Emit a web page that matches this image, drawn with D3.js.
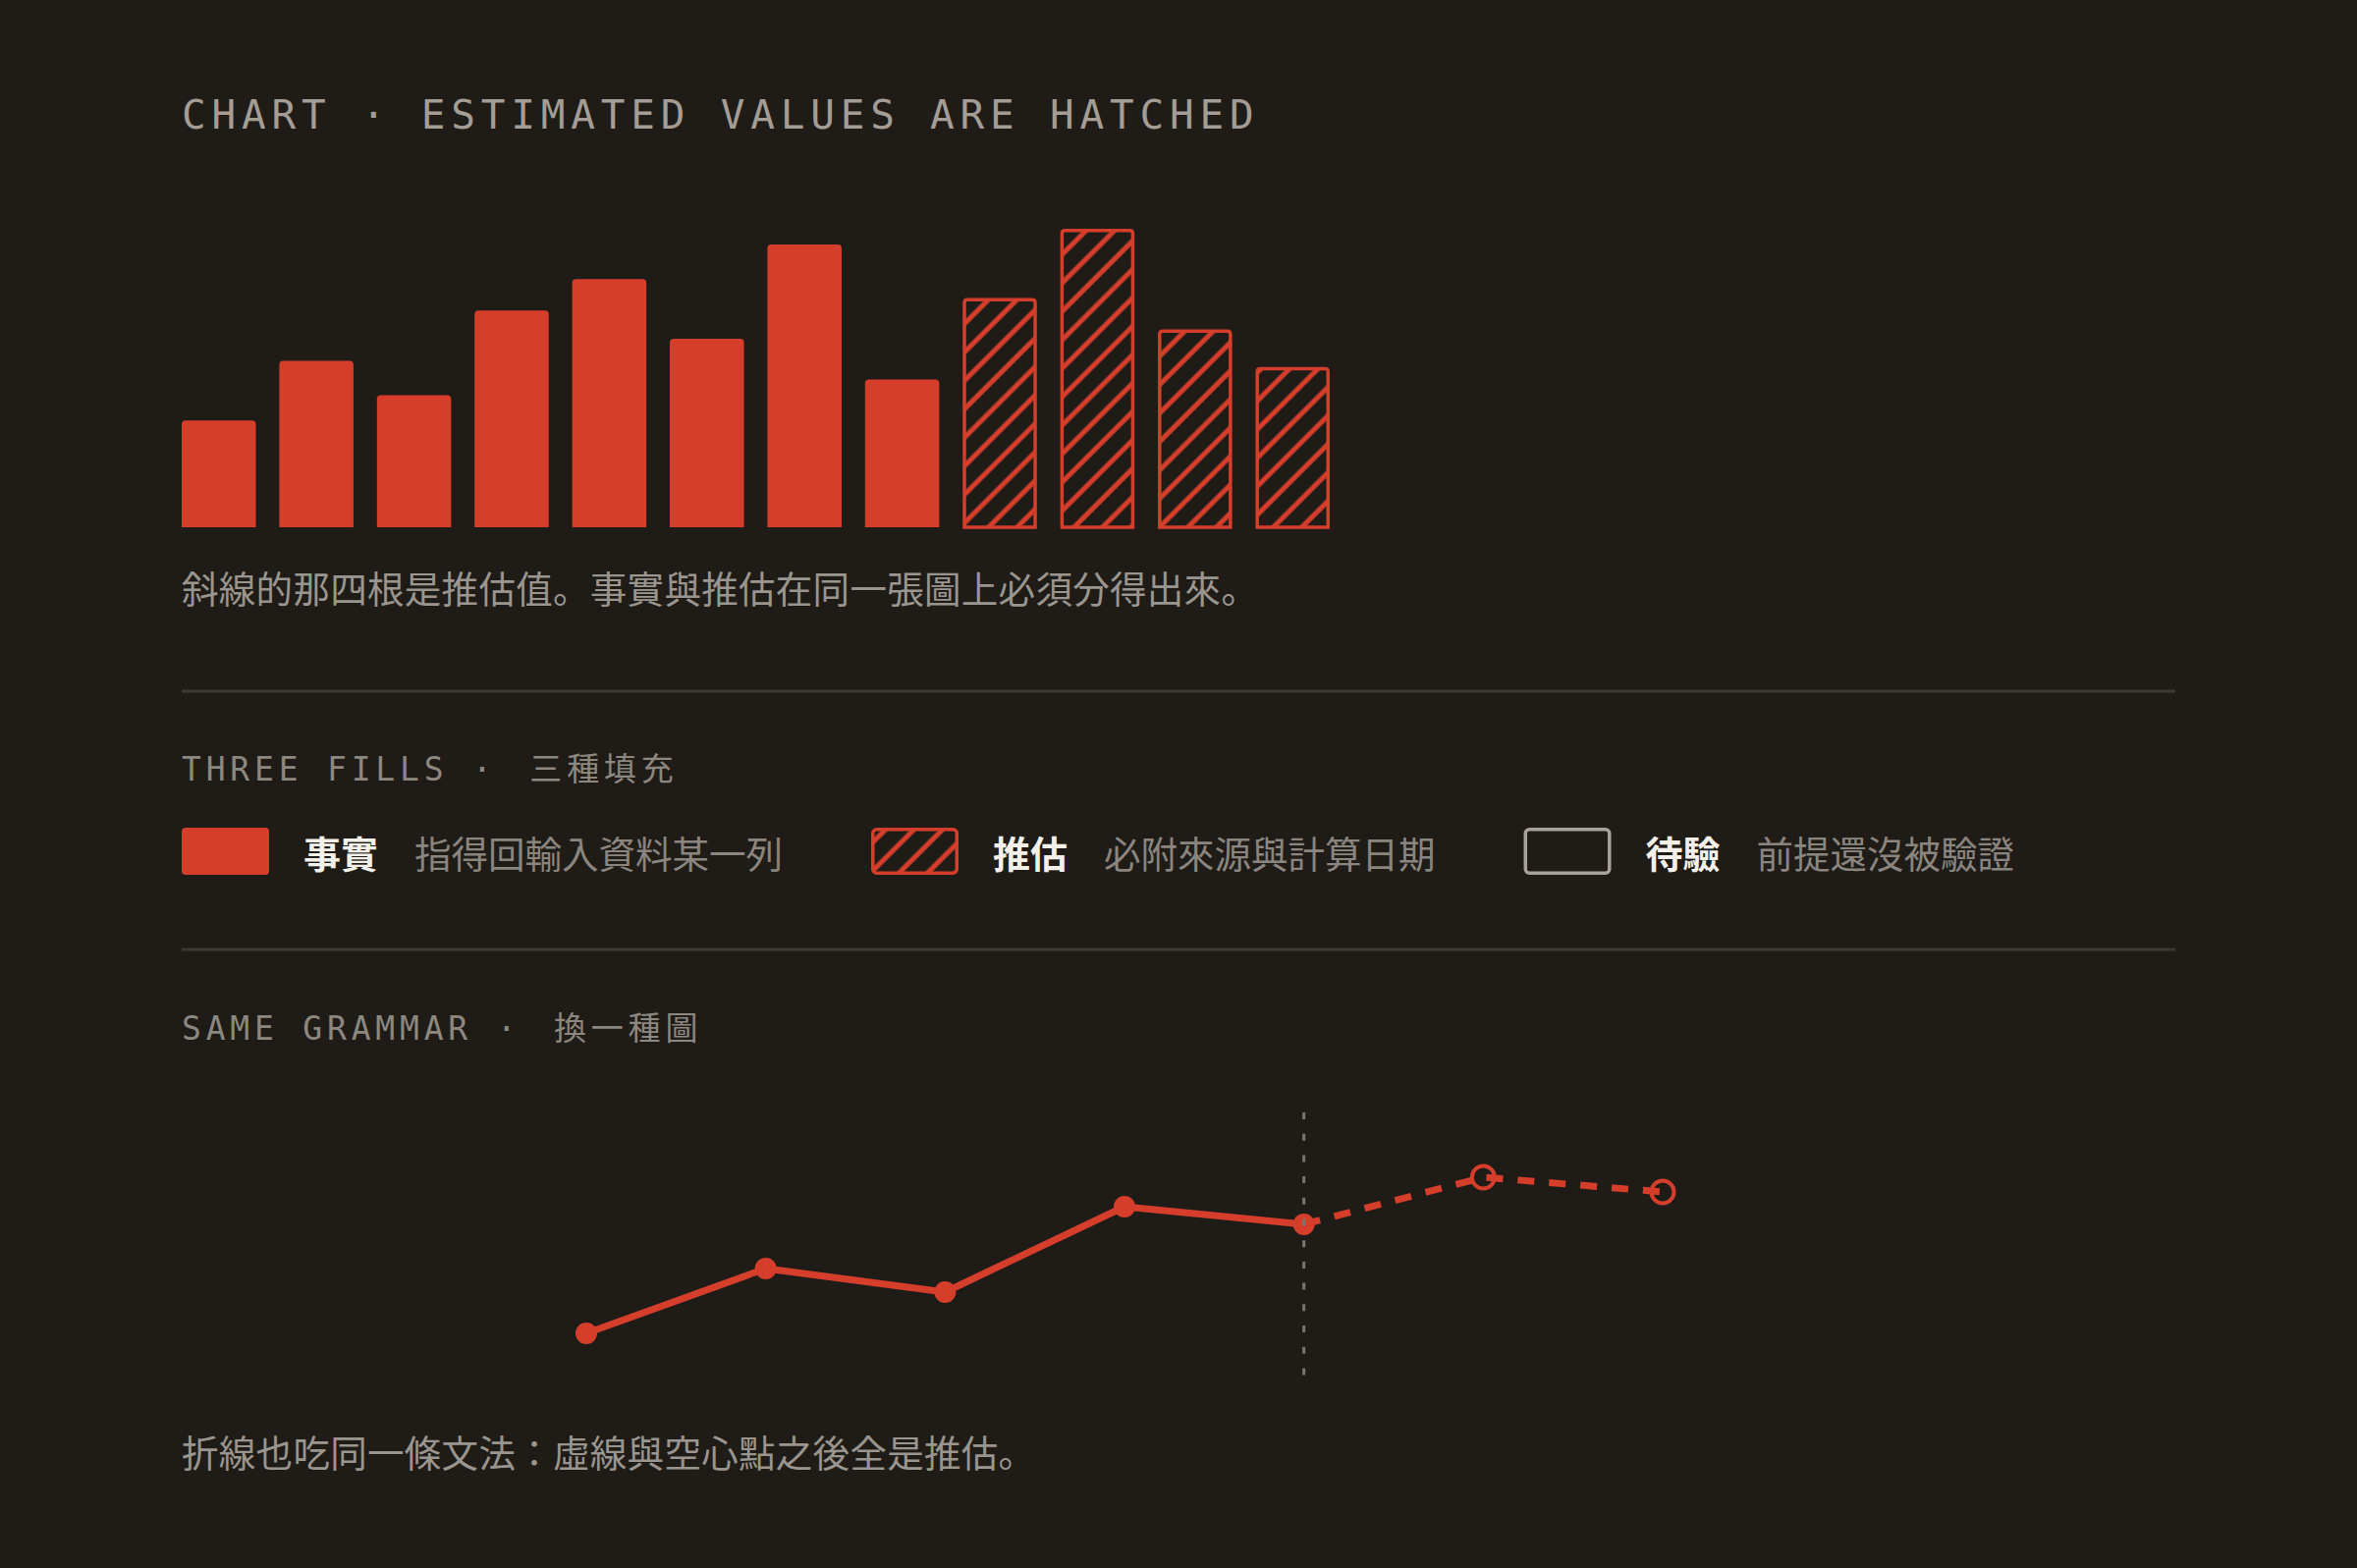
<!DOCTYPE html>
<html>
<head>
<meta charset="utf-8">
<script src="https://cdn.jsdelivr.net/npm/d3@7"></script>
<style>
  html, body { margin: 0; padding: 0; background: #1f1c18; }
  svg { display: block; }
  .mono { font-family: "DejaVu Sans Mono", "Noto Sans CJK TC", monospace; }
  .cjk { font-family: "Noto Sans CJK JP", "Noto Sans CJK TC", sans-serif; }
</style>
</head>
<body>
<div id="chart"></div>
<script>
// bar chart data (the last four are estimates)
var barCategories = ['01', '02', '03', '04', '05', '06', '07', '08', '09', '10', '11', '12'];
var barValues = [34, 53, 42, 69, 79, 60, 90, 47, 73, 95, 63, 51];
var barEstimated = [false, false, false, false, false, false, false, false, true, true, true, true];

// line chart data, dashed from index 4 on
var linePeriods = ['P1', 'P2', 'P3', 'P4', 'P5', 'P6', 'P7'];
var lineValues = [24, 46, 38, 67, 61, 77, 72];
var lineEstimatedFrom = 4;

// legend
var legendKinds = ['fact', 'estimate', 'pending'];
var legendLabels = ['事實', '推估', '待驗'];
var legendNotes = ['指得回輸入資料某一列', '必附來源與計算日期', '前提還沒被驗證'];

var texts = {
  title: 'CHART · ESTIMATED VALUES ARE HATCHED',
  barNote: '斜線的那四根是推估值。事實與推估在同一張圖上必須分得出來。',
  fillsHead: 'THREE FILLS · ',
  fillsHeadZh: '三種填充',
  grammarHead: 'SAME GRAMMAR · ',
  grammarHeadZh: '換一種圖',
  lineNote: '折線也吃同一條文法：虛線與空心點之後全是推估。'
};

var W = 2400, H = 1597;
var bg = '#1f1c18', red = '#d63e2c';

var svg = d3.select('#chart').append('svg')
  .attr('width', W)
  .attr('height', H);

svg.append('rect').attr('width', W).attr('height', H).attr('fill', bg);

// hatch pattern
var defs = svg.append('defs');
var pat = defs.append('pattern')
  .attr('id', 'hatch')
  .attr('patternUnits', 'userSpaceOnUse')
  .attr('width', 20.5)
  .attr('height', 20.5)
  .attr('patternTransform', 'rotate(45)');
pat.append('rect').attr('width', 20.5).attr('height', 20.5).attr('fill', bg);
pat.append('line')
  .attr('x1', 5).attr('y1', 0).attr('x2', 5).attr('y2', 20.5)
  .attr('stroke', red).attr('stroke-width', 5);

function topRounded(x, y, w, h, r) {
  return 'M' + x + ',' + (y + h) +
    'V' + (y + r) +
    'Q' + x + ',' + y + ' ' + (x + r) + ',' + y +
    'H' + (x + w - r) +
    'Q' + (x + w) + ',' + y + ' ' + (x + w) + ',' + (y + r) +
    'V' + (y + h) + 'Z';
}

function sectionHead(y, en, zh) {
  var t = svg.append('text')
    .attr('class', 'mono')
    .attr('x', 185).attr('y', y)
    .attr('font-size', 33)
    .attr('fill', '#8c877f')
    .style('letter-spacing', '4.8px');
  t.append('tspan').text(en);
  t.append('tspan').attr('dx', 9).text(zh);
}

// title
svg.append('text')
  .attr('class', 'mono')
  .attr('x', 185).attr('y', 131)
  .attr('font-size', 41)
  .attr('fill', '#a39d95')
  .style('letter-spacing', '5.8px')
  .text(texts.title);

// bars
var x = d3.scaleBand()
  .domain(barCategories)
  .range([185, 1354])
  .paddingInner(0.24)
  .paddingOuter(0);

var y = d3.scaleLinear()
  .domain([0, 100])
  .range([537, 217]);

var bars = barCategories.map(function (c, i) {
  return { cat: c, value: barValues[i], est: barEstimated[i] };
});

svg.append('g').selectAll('path')
  .data(bars)
  .enter()
  .append('path')
  .attr('d', function (d) {
    var bx = x(d.cat), bw = x.bandwidth(), by = y(d.value), bh = y(0) - y(d.value);
    if (d.est) return topRounded(bx + 1.75, by + 1.75, bw - 3.5, bh - 1.75, 3);
    return topRounded(bx, by, bw, bh, 4);
  })
  .attr('fill', function (d) { return d.est ? 'url(#hatch)' : red; })
  .attr('stroke', function (d) { return d.est ? red : 'none'; })
  .attr('stroke-width', 3.5);

svg.append('text')
  .attr('class', 'cjk')
  .attr('x', 185).attr('y', 614)
  .attr('font-size', 37.5)
  .attr('fill', '#9a958e')
  .style('letter-spacing', '0.3px')
  .text(texts.barNote);

// separators
svg.append('line').attr('x1', 185).attr('x2', 2215).attr('y1', 704).attr('y2', 704)
  .attr('stroke', '#3d3934').attr('stroke-width', 3);
svg.append('line').attr('x1', 185).attr('x2', 2215).attr('y1', 967).attr('y2', 967)
  .attr('stroke', '#3d3934').attr('stroke-width', 3);

// legend
sectionHead(795, texts.fillsHead, texts.fillsHeadZh);

var lx = 185, swW = 89, swH = 48, swY = 843, baseY = 884;
legendKinds.forEach(function (k, i) {
  var sw = svg.append('rect')
    .attr('x', lx + 1.75).attr('y', swY + 1.75)
    .attr('width', swW - 3.5).attr('height', swH - 3.5)
    .attr('rx', 4);
  if (k === 'fact') {
    sw.attr('x', lx).attr('y', swY).attr('width', swW).attr('height', swH)
      .attr('fill', red);
  } else if (k === 'estimate') {
    sw.attr('fill', 'url(#hatch)').attr('stroke', red).attr('stroke-width', 3.5);
  } else {
    sw.attr('fill', 'none').attr('stroke', '#a8a29a').attr('stroke-width', 3.5);
  }
  lx += swW + 35;
  var lab = svg.append('text')
    .attr('class', 'cjk')
    .attr('x', lx).attr('y', baseY)
    .attr('font-size', 38)
    .attr('font-weight', 700)
    .attr('fill', '#f3f0ea')
    .text(legendLabels[i]);
  lx += lab.node().getComputedTextLength() + 37;
  var note = svg.append('text')
    .attr('class', 'cjk')
    .attr('x', lx).attr('y', baseY)
    .attr('font-size', 37.5)
    .attr('fill', '#8a857e')
    .text(legendNotes[i]);
  lx += note.node().getComputedTextLength() + 90;
});

// line chart
sectionHead(1059, texts.grammarHead, texts.grammarHeadZh);

var lxScale = d3.scalePoint()
  .domain(linePeriods)
  .range([597, 1693]);

var lyScale = d3.scaleLinear()
  .domain([0, 100])
  .range([1430, 1130]);

var pts = linePeriods.map(function (p, i) {
  return { p: p, v: lineValues[i], i: i };
});

var line = d3.line()
  .x(function (d) { return lxScale(d.p); })
  .y(function (d) { return lyScale(d.v); });

var lg = svg.append('g');

lg.selectAll('circle')
  .data(pts)
  .enter()
  .append('circle')
  .attr('cx', function (d) { return lxScale(d.p); })
  .attr('cy', function (d) { return lyScale(d.v); })
  .attr('r', function (d) { return d.i > lineEstimatedFrom ? 11.5 : 11; })
  .attr('fill', function (d) { return d.i > lineEstimatedFrom ? bg : red; })
  .attr('stroke', red)
  .attr('stroke-width', function (d) { return d.i > lineEstimatedFrom ? 4 : 0; });

lg.append('path')
  .attr('d', line(pts.slice(0, lineEstimatedFrom + 1)))
  .attr('fill', 'none')
  .attr('stroke', red)
  .attr('stroke-width', 7)
  .attr('stroke-linejoin', 'round');

lg.append('path')
  .attr('d', line(pts.slice(lineEstimatedFrom)))
  .attr('fill', 'none')
  .attr('stroke', red)
  .attr('stroke-width', 7)
  .attr('stroke-dasharray', '17,15');

// divider between fact and estimate
var divX = lxScale(linePeriods[lineEstimatedFrom]);
lg.append('line')
  .attr('x1', divX).attr('x2', divX)
  .attr('y1', 1133).attr('y2', 1401)
  .attr('stroke', '#7a756e')
  .attr('stroke-width', 3)
  .attr('stroke-dasharray', '7,14.7');

svg.append('text')
  .attr('class', 'cjk')
  .attr('x', 185).attr('y', 1494)
  .attr('font-size', 37.5)
  .attr('fill', '#9a958e')
  .style('letter-spacing', '0.3px')
  .text(texts.lineNote);
</script>
</body>
</html>
